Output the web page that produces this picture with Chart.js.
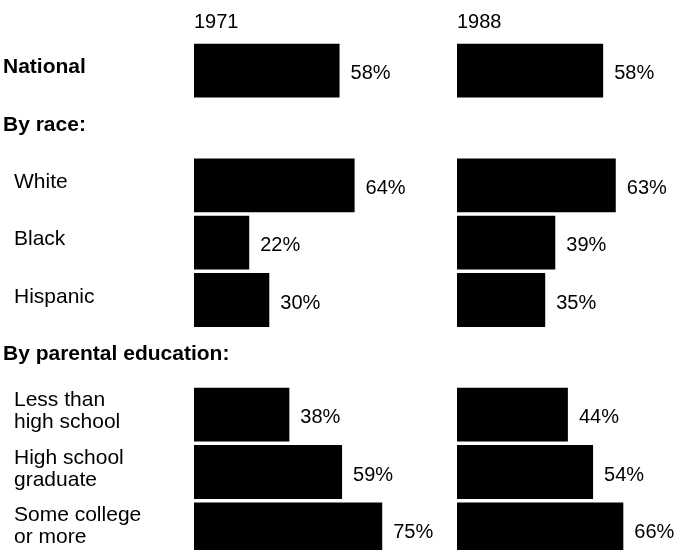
<!DOCTYPE html>
<html lang="en">
<head>
  <meta charset="UTF-8" />
  <meta name="viewport" content="width=device-width, initial-scale=1.0" />
  <title>Share by group, 1971 and 1988</title>
  <script src="https://cdn.jsdelivr.net/npm/chart.js"></script>
  <style>
    * {
      margin: 0;
      padding: 0;
      box-sizing: border-box;
    }
    html, body {
      background: #fff;
      overflow: hidden;
    }
    .chart-box {
      width: 677px;
      height: 560px;
    }
  </style>
</head>
<body>

  <div class="chart-box">
    <canvas id="groupChart" width="677" height="560"></canvas>
  </div>

  <script>
    // Rows, top to bottom (section headings have no bars)
    const rowLabels = [
      'National',
      'By race:',
      'White',
      'Black',
      'Hispanic',
      'By parental education:',
      ['Less than', 'high school'],
      ['High school', 'graduate'],
      ['Some college', 'or more']
    ];
    const headingRows = [0, 1, 5];

    const years = ['1971', '1988'];
    const values1971 = [58, null, 64, 22, 30, null, 38, 59, 75];
    const values1988 = [58, null, 63, 39, 35, null, 44, 54, 66];

    const FONT = "'Liberation Sans', Arial, Helvetica, sans-serif";

    // Left-hand row labels, placed on the category scale
    const rowLabelPlugin = {
      id: 'rowLabels',
      afterDraw(chart) {
        const ctx = chart.ctx;
        const yScale = chart.scales.y;
        ctx.save();
        ctx.fillStyle = '#000';
        ctx.textAlign = 'left';
        ctx.textBaseline = 'middle';
        rowLabels.forEach((label, i) => {
          const heading = headingRows.includes(i);
          const lines = Array.isArray(label) ? label : [label];
          const lineH = 22;
          const y0 = yScale.getPixelForValue(i) - 3 - (lines.length - 1) * lineH / 2;
          ctx.font = (heading ? 'bold ' : '') + '21px ' + FONT;
          lines.forEach((line, k) => {
            ctx.fillText(line, heading ? 3 : 14, y0 + k * lineH);
          });
        });
        ctx.restore();
      }
    };

    // Percent labels just past the end of each bar
    const valueLabelPlugin = {
      id: 'valueLabels',
      afterDatasetsDraw(chart) {
        const ctx = chart.ctx;
        ctx.save();
        ctx.fillStyle = '#000';
        ctx.font = '20px ' + FONT;
        ctx.textAlign = 'left';
        ctx.textBaseline = 'middle';
        chart.data.datasets.forEach((ds, di) => {
          const meta = chart.getDatasetMeta(di);
          meta.data.forEach((bar, i) => {
            if (ds.data[i] == null) return;
            ctx.fillText(ds.data[i] + '%', bar.x + 11, bar.y + 3);
          });
        });
        ctx.restore();
      }
    };

    // Two side-by-side value axes at the top, one per year.
    // Higher layout weight is placed first (leftmost).
    function yearAxis(title, order, share, max) {
      return {
        type: 'linear',
        position: 'top',
        stack: 'years',
        stackWeight: share,
        weight: order,
        min: 0,
        max: max,
        grid: { display: false, drawTicks: false },
        border: { display: false },
        ticks: { display: false },
        title: {
          display: true,
          text: title,
          align: 'start',
          color: '#000',
          font: { family: FONT, size: 20 },
          padding: { top: 10, bottom: 8 }
        }
      };
    }

    const barStyle = {
      backgroundColor: '#000',
      borderWidth: 0,
      barPercentage: 0.94,
      categoryPercentage: 1,
      grouped: false
    };

    new Chart(document.getElementById('groupChart').getContext('2d'), {
      type: 'bar',
      data: {
        labels: rowLabels,
        datasets: [
          { label: years[0], data: values1971, xAxisID: 'x1971', ...barStyle },
          { label: years[1], data: values1988, xAxisID: 'x1988', ...barStyle }
        ]
      },
      options: {
        indexAxis: 'y',
        responsive: false,
        animation: false,
        layout: { padding: { left: 194, right: 0, top: 0, bottom: 2 } },
        plugins: {
          legend: { display: false },
          tooltip: { enabled: false }
        },
        scales: {
          y: { display: false, offset: true },
          x1971: yearAxis(years[0], 2, 263, 104.8),
          x1988: yearAxis(years[1], 1, 220, 87.3)
        }
      },
      plugins: [rowLabelPlugin, valueLabelPlugin]
    });
  </script>

</body>
</html>
